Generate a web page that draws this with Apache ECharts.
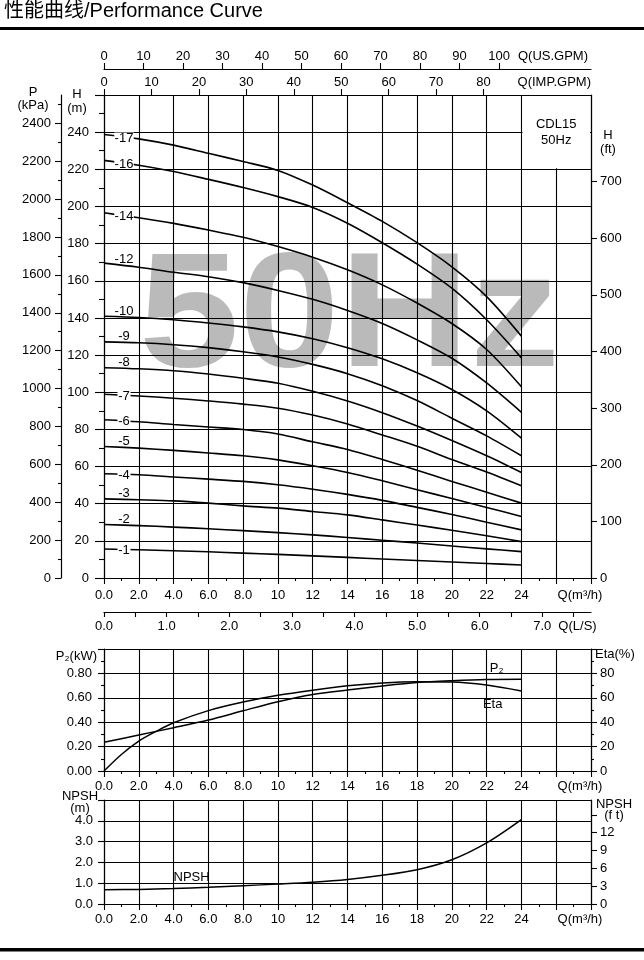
<!DOCTYPE html>
<html lang="en">
<head>
<meta charset="utf-8">
<script src="https://cdn.jsdelivr.net/npm/echarts@6/dist/echarts.min.js"></script>
<title>Performance Curve</title>
<style>html,body{margin:0;padding:0;background:#fff;}</style>
</head>
<body>
<div id="main" style="width:644px;height:960px;"></div>
<script type="text/javascript">
// flow points (m3/h) for the H-Q curves
var qPoints = [0, 2, 4, 6, 8, 10, 12, 14, 16, 18, 20, 22, 24];
var stages = [17, 16, 14, 12, 10, 9, 8, 7, 6, 5, 4, 3, 2, 1];
var head17 = [238.7, 236.4, 233.0, 228.6, 224.2, 219.4, 211.5, 202.0, 192.0, 180.5, 167.5, 151.5, 130.2];
var head16 = [224.8, 222.2, 218.8, 214.6, 210.2, 205.3, 199.5, 191.0, 180.5, 169.0, 156.0, 139.0, 118.5];
var head14 = [196.6, 193.9, 190.9, 187.3, 183.4, 178.4, 172.7, 165.9, 157.8, 148.0, 137.0, 123.0, 102.9];
var head12 = [169.5, 167.3, 164.6, 162.2, 159.0, 154.8, 150.0, 144.0, 137.0, 128.2, 118.3, 105.0, 89.2];
var head10 = [140.9, 140.2, 139.0, 137.3, 135.2, 132.5, 128.8, 124.0, 118.0, 110.5, 101.5, 90.0, 75.3];
var head9 = [127.1, 126.6, 125.6, 124.0, 121.8, 119.0, 115.0, 110.0, 103.5, 95.5, 86.0, 76.5, 65.8];
var head8 = [113.2, 112.6, 111.6, 109.8, 107.5, 104.8, 100.5, 95.3, 89.0, 81.8, 74.0, 65.8, 56.8];
var head7 = [98.9, 98.0, 96.8, 95.3, 93.6, 91.4, 87.7, 82.9, 77.0, 70.9, 63.8, 57.0, 49.6];
var head6 = [85.2, 84.1, 82.6, 81.3, 79.9, 77.5, 73.3, 69.2, 63.8, 58.0, 52.0, 46.2, 40.3];
var head5 = [70.8, 69.9, 68.7, 67.3, 65.8, 63.6, 60.4, 56.8, 52.3, 47.5, 42.8, 38.0, 33.1];
var head4 = [56.1, 55.6, 54.4, 53.2, 52.0, 50.2, 47.8, 45.0, 41.8, 38.0, 34.2, 30.0, 25.9];
var head3 = [42.6, 42.1, 41.5, 40.3, 38.8, 37.6, 35.8, 34.0, 31.3, 28.5, 25.7, 22.7, 19.6];
var head2 = [28.8, 28.2, 27.4, 26.5, 25.5, 24.4, 23.2, 21.8, 20.3, 18.8, 17.2, 15.7, 14.2];
var head1 = [15.6, 15.2, 14.7, 14.1, 13.4, 12.7, 11.9, 11.1, 10.2, 9.4, 8.6, 7.8, 7.0];
var heads = [head17, head16, head14, head12, head10, head9, head8, head7, head6, head5, head4, head3, head2, head1];
// curve labels that sit on the line (the rest sit just above it)
var onLineStages = [17, 16, 14, 7, 6, 4, 1];

// power / efficiency / npsh
var p2Kw = [0.235, 0.295, 0.355, 0.418, 0.494, 0.568, 0.627, 0.664, 0.697, 0.725, 0.740, 0.750, 0.752];
var etaQ = [0, 1, 2, 3, 4, 6, 8, 10, 12, 14, 16, 18, 20, 22, 24];
var etaPct = [0, 13.5, 24.5, 32.5, 39.5, 49.5, 56.5, 62, 66.2, 69.8, 72.2, 73.2, 73, 70.5, 65.6];
var npshM = [0.69, 0.70, 0.74, 0.80, 0.88, 0.96, 1.05, 1.18, 1.38, 1.65, 2.13, 2.94, 4.06];

// tick labels
var qLabels = [0, 2, 4, 6, 8, 10, 12, 14, 16, 18, 20, 22, 24];
var lsTicks = [0, 0.5, 1, 1.5, 2, 2.5, 3, 3.5, 4, 4.5, 5, 5.5, 6, 6.5, 7, 7.5];
var lsLabels = [0, 1, 2, 3, 4, 5, 6, 7];
var usGpmLabels = [0, 10, 20, 30, 40, 50, 60, 70, 80, 90, 100];
var impGpmLabels = [0, 10, 20, 30, 40, 50, 60, 70, 80];
var hLabels = [0, 20, 40, 60, 80, 100, 120, 140, 160, 180, 200, 220, 240];
var kpaLabels = [0, 200, 400, 600, 800, 1000, 1200, 1400, 1600, 1800, 2000, 2200, 2400];
var kpaMinor = [100, 300, 500, 700, 900, 1100, 1300, 1500, 1700, 1900, 2100, 2300, 2500];
var ftLabels = [0, 100, 200, 300, 400, 500, 600, 700];
var p2Labels = [0, 0.2, 0.4, 0.6, 0.8];
var etaLabels = [0, 20, 40, 60, 80];
var npshLabels = [0, 1, 2, 3, 4];
var npshFtTicks = [0, 3, 6, 9, 12, 15];
var npshFtLabels = [0, 3, 6, 9, 12];

var font = '"Liberation Sans", Arial, "Noto Sans CJK SC", sans-serif';
var lineSt = {color: '#000', width: 1.1};
var clear = 'rgba(0,0,0,0)';

function ax(o) {
    var a = {
        type: 'value',
        nameMoveOverlap: false,
        axisLine: {show: true, onZero: false, lineStyle: {color: '#000', width: 1.2}},
        axisTick: {show: true, length: 6, lineStyle: {color: '#000', width: 1.1}},
        axisLabel: {color: '#000', fontSize: 13, fontFamily: font, formatter: function (v) { return String(v); }},
        splitLine: {show: false},
        nameTextStyle: {color: '#000', fontSize: 13, fontFamily: font}
    };
    for (var k in o) {
        if (a[k] && typeof a[k] === 'object' && !Array.isArray(a[k])) Object.assign(a[k], o[k]);
        else a[k] = o[k];
    }
    return a;
}
function qFmt(v) { return v < 10 ? v.toFixed(1) : String(v); }
function qAxis(grid, margin) {
    return ax({
        gridIndex: grid, position: 'bottom', min: 0, max: 28, interval: 2,
        minorTick: {show: true, splitNumber: 2, length: 3, lineStyle: {color: '#000', width: 1.1}},
        axisLabel: {margin: margin, customValues: qLabels, formatter: qFmt},
        splitLine: {show: true, lineStyle: lineSt},
        name: 'Q(m³/h)', nameLocation: 'end', nameGap: -11,
        nameTextStyle: {align: 'center', verticalAlign: 'top', padding: [margin, 0, 0, 0]}
    });
}

var myChart = echarts.init(document.getElementById('main'));

var series = [];
stages.forEach(function (n, i) {
    var h = heads[i];
    var onLine = onLineStages.indexOf(n) >= 0;
    var txt = '-' + n;
    var s = {
        type: 'line', name: txt, xAxisIndex: 0, yAxisIndex: 0,
        data: qPoints.map(function (q, j) { return [q, h[j]]; }),
        smooth: 0.3, showSymbol: false, symbol: 'none',
        lineStyle: {color: '#000', width: 1.6}, silent: true, z: 3,
        // stage number written near the start of each curve
        markPoint: {
            silent: true,
            symbol: 'rect',
            symbolSize: onLine ? [txt.length * 6.5, 9] : 0,
            itemStyle: {color: '#fff'},
            label: {show: true, position: 'inside', color: '#000', fontSize: 13, fontFamily: font,
                formatter: txt, offset: onLine ? [0, 1] : [0, -6]},
            data: [{coord: [1.15, h[0] + (h[1] - h[0]) * 0.575]}]
        }
    };
    if (i === 0) {
        s.markArea = {
            silent: true,
            itemStyle: {color: '#fff'},
            label: {show: true, position: 'inside', formatter: 'CDL15\n50Hz', color: '#000',
                fontSize: 13, lineHeight: 16, fontFamily: font},
            data: [[{coord: [24.06, 220.6]}, {coord: [27.94, 259.4]}]]
        };
    }
    series.push(s);
});

function pointLabel(text, pos, dist, off) {
    return {show: true, formatter: text, position: pos, distance: dist, offset: off,
        color: '#000', fontSize: 13, fontFamily: font};
}
var p2Data = qPoints.map(function (q, j) {
    var d = {value: [q, p2Kw[j]]};
    if (q === 22) d.label = pointLabel('P₂', 'top', 4, [10, 0]);
    return d;
});
var etaData = etaQ.map(function (q, j) {
    var d = {value: [q, etaPct[j]]};
    if (q === 22) d.label = pointLabel('Eta', 'bottom', 12, [6, 0]);
    return d;
});
var npshData = qPoints.map(function (q, j) {
    var d = {value: [q, npshM[j]]};
    if (q === 4) d.label = pointLabel('NPSH', 'top', 4, [18, 0]);
    return d;
});
var lowLine = {type: 'line', smooth: 0.3, showSymbol: true, symbol: 'circle', symbolSize: 1,
    itemStyle: {color: clear}, lineStyle: {color: '#000', width: 1.5}, silent: true, z: 3};
series.push(Object.assign({}, lowLine, {name: 'P2', xAxisIndex: 4, yAxisIndex: 3, data: p2Data}));
series.push(Object.assign({}, lowLine, {name: 'Eta', xAxisIndex: 4, yAxisIndex: 4, data: etaData}));
series.push(Object.assign({}, lowLine, {name: 'NPSH', xAxisIndex: 5, yAxisIndex: 5, data: npshData}));

var option = {
    animation: false,
    backgroundColor: '#fff',
    title: {
        text: '性能曲线/Performance Curve', left: 4, top: 1, padding: 0,
        textStyle: {color: '#000', fontSize: 20, fontWeight: 'normal', fontFamily: font}
    },
    graphic: [
        {type: 'rect', shape: {x: 0, y: 27, width: 644, height: 3}, style: {fill: '#000'}},
        {type: 'rect', shape: {x: 0, y: 948, width: 644, height: 3.5}, style: {fill: '#000'}},
        {type: 'text', x: 349.5, y: 321, scaleX: 1.1, z: -10, silent: true,
            style: {text: '50Hz', fill: '#bababa', fontSize: 164, fontWeight: 'bold',
                fontFamily: '"Liberation Sans", Arial, sans-serif',
                align: 'center', verticalAlign: 'middle', textAlign: 'center', textVerticalAlign: 'middle'}}
    ],
    grid: [
        {left: 104, top: 95, width: 487, height: 483, outerBoundsMode: 'none'},
        {left: 104, top: 649, width: 487, height: 122, outerBoundsMode: 'none'},
        {left: 104, top: 800, width: 487, height: 104, outerBoundsMode: 'none'}
    ],
    xAxis: [
        qAxis(0, 11),
        ax({gridIndex: 0, position: 'bottom', offset: 34, min: 0, max: 28 / 3.6,
            axisTick: {length: 5, customValues: lsTicks},
            axisLabel: {margin: 8, customValues: lsLabels, formatter: function (v) { return v.toFixed(1); }},
            name: 'Q(L/S)', nameLocation: 'end', nameGap: -13.5,
            nameTextStyle: {align: 'center', verticalAlign: 'top', padding: [8, 0, 0, 0]}}),
        ax({gridIndex: 0, position: 'top', offset: 26, min: 0, max: 28 * 4.40287,
            axisTick: {length: 6, customValues: usGpmLabels},
            axisLabel: {margin: 6, customValues: usGpmLabels},
            name: 'Q(US.GPM)', nameLocation: 'end', nameGap: -3,
            nameTextStyle: {align: 'right', verticalAlign: 'bottom', padding: [0, 0, 6, 0]}}),
        ax({gridIndex: 0, position: 'top', offset: 0, min: 0, max: 28 * 3.66615,
            axisTick: {length: 6, customValues: impGpmLabels},
            axisLabel: {margin: 6, customValues: impGpmLabels},
            name: 'Q(IMP.GPM)', nameLocation: 'end', nameGap: 0,
            nameTextStyle: {align: 'right', verticalAlign: 'bottom', padding: [0, 0, 6, 0]}}),
        qAxis(1, 9),
        qAxis(2, 9)
    ],
    yAxis: [
        ax({gridIndex: 0, position: 'left', min: 0, max: 260, interval: 20,
            axisTick: {length: 9},
            minorTick: {show: true, splitNumber: 2, length: 5, lineStyle: {color: '#000', width: 1.1}},
            axisLabel: {margin: 15, customValues: hLabels},
            splitLine: {show: true, lineStyle: lineSt},
            name: 'H\n(m)', nameLocation: 'end', nameGap: -6,
            nameTextStyle: {align: 'center', verticalAlign: 'middle', lineHeight: 14, padding: [0, 54, 0, 0]}}),
        ax({gridIndex: 0, position: 'left', offset: 43, min: 0, max: 260 * 9.80665,
            axisTick: {length: 6, customValues: kpaLabels},
            axisLabel: {margin: 10, customValues: kpaLabels},
            name: 'P\n(kPa)', nameLocation: 'end', nameGap: -4,
            nameTextStyle: {align: 'center', verticalAlign: 'middle', lineHeight: 13, padding: [0, 56, 0, 0]}}),
        ax({gridIndex: 0, position: 'right', min: 0, max: 260 * 3.28084,
            axisTick: {length: 6, customValues: ftLabels},
            axisLabel: {margin: 9, customValues: ftLabels},
            name: 'H\n(ft)', nameLocation: 'end', nameGap: -47,
            nameTextStyle: {align: 'center', verticalAlign: 'middle', lineHeight: 14, padding: [0, 0, 0, 34]}}),
        ax({gridIndex: 1, position: 'left', min: 0, max: 1, interval: 0.2,
            minorTick: {show: true, splitNumber: 2, length: 3, lineStyle: {color: '#000', width: 1.1}},
            axisLabel: {margin: 12, customValues: p2Labels, formatter: function (v) { return v.toFixed(2); }},
            splitLine: {show: true, lineStyle: lineSt},
            name: 'P₂(kW)', nameLocation: 'end', nameGap: -7,
            nameTextStyle: {align: 'right', verticalAlign: 'middle', padding: [0, 7, 0, 0]}}),
        ax({gridIndex: 1, position: 'right', min: 0, max: 100, interval: 20,
            minorTick: {show: true, splitNumber: 2, length: 3, lineStyle: {color: '#000', width: 1.1}},
            axisLabel: {margin: 9, customValues: etaLabels},
            name: 'Eta(%)', nameLocation: 'end', nameGap: -5,
            nameTextStyle: {align: 'left', verticalAlign: 'middle', padding: [0, 0, 0, 4]}}),
        ax({gridIndex: 2, position: 'left', min: 0, max: 5, interval: 1,
            axisLabel: {margin: 11, customValues: npshLabels, formatter: function (v) { return v.toFixed(1); }},
            splitLine: {show: true, lineStyle: lineSt},
            name: 'NPSH\n(m)', nameLocation: 'end', nameGap: -2,
            nameTextStyle: {align: 'center', verticalAlign: 'middle', lineHeight: 12, padding: [0, 48, 0, 0]}}),
        ax({gridIndex: 2, position: 'right', min: 0, max: 17.5,
            axisTick: {length: 6, customValues: npshFtTicks},
            axisLabel: {margin: 9, customValues: npshFtLabels},
            name: 'NPSH\n(f t)', nameLocation: 'end', nameGap: -9.5,
            nameTextStyle: {align: 'center', verticalAlign: 'middle', lineHeight: 11, padding: [0, 0, 0, 46]}}),
        // minor ticks of the kPa scale
        ax({gridIndex: 0, position: 'left', offset: 43, min: 0, max: 260 * 9.80665,
            axisLine: {show: false},
            axisTick: {length: 3, customValues: kpaMinor},
            axisLabel: {show: false}})
    ],
    series: series
};

myChart.setOption(option);
</script>
</body>
</html>
